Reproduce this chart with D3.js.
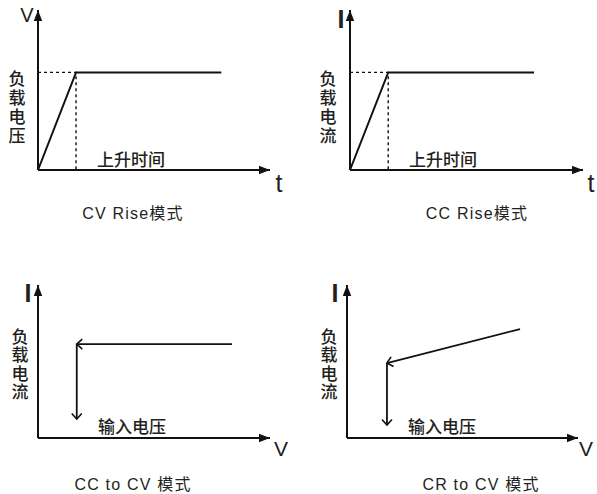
<!DOCTYPE html>
<html>
<head>
<meta charset="utf-8">
<script src="https://cdn.jsdelivr.net/npm/d3@7"></script>
<style>
  body { margin: 0; background: #fff; }
  text { fill: #231f20; font-family: "Liberation Sans", Arial, "Noto Sans CJK SC", sans-serif; }
  .cjk { font-family: "Noto Sans CJK SC", sans-serif; }
</style>
</head>
<body>
<div id="chart"></div>
<script>
// Données des quatre modes (unités relatives : 100 = pointe de l'axe)
const panelTitles = ['CV Rise模式', 'CC Rise模式', 'CC to CV 模式', 'CR to CV 模式'];
const yLetters = ['V', 'I', 'I', 'I'];
const xLetters = ['t', 't', 'V', 'V'];
const yLabels = ['负载电压', '负载电流', '负载电流', '负载电流'];
const xNotes = ['上升时间', '上升时间', '输入电压', '输入电压'];

// Montée : rampe puis palier
const riseX = [0, 16.4, 79];
const riseY = [0, 61, 61];
// CC -> CV
const ccCvX = [83.6, 16.7, 16.7];
const ccCvY = [61.4, 61.4, 12.4];
// CR -> CV
const crCvX = [74.9, 17.3, 17.3];
const crCvY = [71.2, 49.0, 8.5];

const width = 597;
const height = 494;

const svg = d3.select('#chart')
    .append('svg')
    .attr('width', width)
    .attr('height', height);

const defs = svg.append('defs');
// Flèche pleine pour les axes
defs.append('marker')
    .attr('id', 'axisHead')
    .attr('markerUnits', 'userSpaceOnUse')
    .attr('viewBox', '-12 -5 13 10')
    .attr('refX', 0).attr('refY', 0)
    .attr('markerWidth', 13).attr('markerHeight', 10)
    .attr('orient', 'auto')
    .append('path')
    .attr('d', 'M-11,-4.2L0,0L-11,4.2Z')
    .attr('fill', '#111');
// Flèche ouverte pour les courbes
defs.append('marker')
    .attr('id', 'openHead')
    .attr('markerUnits', 'userSpaceOnUse')
    .attr('viewBox', '-8 -6 10 12')
    .attr('refX', 0).attr('refY', 0)
    .attr('markerWidth', 10).attr('markerHeight', 12)
    .attr('orient', 'auto')
    .append('path')
    .attr('d', 'M-5.5,-5L0,0L-5.5,5')
    .attr('fill', 'none')
    .attr('stroke', '#111')
    .attr('stroke-width', 1.6);

// Position de chaque panneau
const panels = [
    { ox: 38, oy: 170, w: 232, h: 160, labelX: 17, labelTop: 70, spacing: 2, letterX: 27, letterY: 22, tx: 279, ty: 192, titleX: 133, titleY: 219, noteX: 97, noteY: 166 },
    { ox: 350, oy: 170, w: 233, h: 160, labelX: 328, labelTop: 70, spacing: 2, letterX: 341, letterY: 28, tx: 591, ty: 192, titleX: 477, titleY: 219, noteX: 409, noteY: 166 },
    { ox: 38, oy: 438, w: 232, h: 153, labelX: 20, labelTop: 328, spacing: 1.5, letterX: 28, letterY: 302, tx: 281, ty: 456, titleX: 133, titleY: 490, noteX: 98, noteY: 433 },
    { ox: 347, oy: 438, w: 231, h: 153, labelX: 329, labelTop: 328, spacing: 1.5, letterX: 335, letterY: 302, tx: 586, ty: 456, titleX: 481, titleY: 490, noteX: 408, noteY: 433 }
];

const curves = [
    { xs: riseX, ys: riseY, arrow: false, guide: true },
    { xs: riseX, ys: riseY, arrow: false, guide: true },
    { xs: ccCvX, ys: ccCvY, arrow: true, guide: false },
    { xs: crCvX, ys: crCvY, arrow: true, guide: false }
];

panels.forEach((p, i) => {
    const x = d3.scaleLinear().domain([0, 100]).range([p.ox, p.ox + p.w]);
    const y = d3.scaleLinear().domain([0, 100]).range([p.oy, p.oy - p.h]);
    const g = svg.append('g');

    // Axes
    g.append('line')
        .attr('x1', x(0)).attr('y1', y(0))
        .attr('x2', x(0)).attr('y2', y(100))
        .attr('stroke', '#111').attr('stroke-width', 2)
        .attr('marker-end', 'url(#axisHead)');
    g.append('line')
        .attr('x1', x(0)).attr('y1', y(0))
        .attr('x2', x(100)).attr('y2', y(0))
        .attr('stroke', '#111').attr('stroke-width', 2)
        .attr('marker-end', 'url(#axisHead)');

    const c = curves[i];
    const pts = c.xs.map((v, k) => [x(v), y(c.ys[k])]);

    if (c.guide) {
        // Pointillés du temps de montée
        const top = pts[1];
        g.append('path')
            .attr('d', d3.line()([[x(0), top[1]], top, [top[0], y(0)]]))
            .attr('fill', 'none')
            .attr('stroke', '#111')
            .attr('stroke-width', 1.4)
            .attr('stroke-dasharray', '3,3');
    }

    if (c.arrow) {
        // Deux segments fléchés
        g.append('line')
            .attr('x1', pts[0][0]).attr('y1', pts[0][1])
            .attr('x2', pts[1][0]).attr('y2', pts[1][1])
            .attr('stroke', '#111').attr('stroke-width', 1.8)
            .attr('marker-end', 'url(#openHead)');
        g.append('line')
            .attr('x1', pts[1][0]).attr('y1', pts[1][1])
            .attr('x2', pts[2][0]).attr('y2', pts[2][1])
            .attr('stroke', '#111').attr('stroke-width', 1.8)
            .attr('marker-end', 'url(#openHead)');
    } else {
        g.append('path')
            .attr('d', d3.line()(pts))
            .attr('fill', 'none')
            .attr('stroke', '#111')
            .attr('stroke-width', 2);
    }

    // Lettres des axes
    g.append('text')
        .attr('x', p.letterX).attr('y', p.letterY)
        .attr('text-anchor', 'middle')
        .style('font-size', yLetters[i] === 'I' ? '25px' : '20px')
        .style('font-weight', yLetters[i] === 'I' ? 'bold' : 'normal')
        .text(yLetters[i]);
    g.append('text')
        .attr('x', p.tx).attr('y', p.ty)
        .attr('text-anchor', 'middle')
        .style('font-size', xLetters[i] === 't' ? '25px' : '21px')
        .text(xLetters[i]);

    // Libellé vertical
    g.append('text')
        .attr('class', 'cjk')
        .attr('x', p.labelX)
        .attr('y', p.labelTop)
        .style('writing-mode', 'vertical-rl')
        .style('letter-spacing', p.spacing + 'px')
        .style('font-size', '17px')
        .style('font-weight', 500)
        .text(yLabels[i]);

    // Note sur l'axe horizontal
    g.append('text')
        .attr('class', 'cjk')
        .attr('x', p.noteX).attr('y', p.noteY)
        .style('font-size', '17px')
        .style('font-weight', 500)
        .text(xNotes[i]);

    // Titre
    g.append('text')
        .attr('x', p.titleX).attr('y', p.titleY)
        .attr('text-anchor', 'middle')
        .style('font-size', '16px')
        .style('letter-spacing', '1.2px')
        .text(panelTitles[i]);
});
</script>
</body>
</html>
